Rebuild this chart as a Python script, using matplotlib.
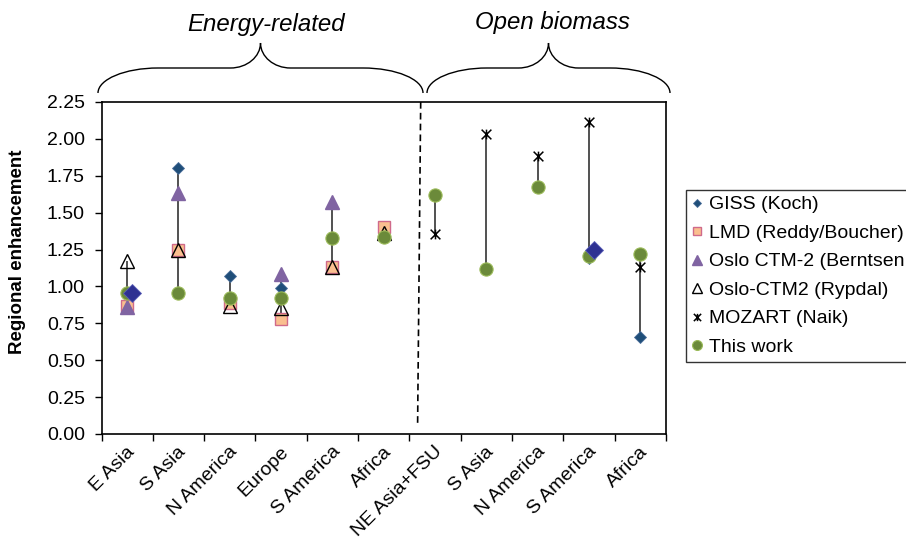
import numpy as np
import matplotlib
matplotlib.use("Agg")
import matplotlib.pyplot as plt
from matplotlib.path import Path
from matplotlib.patches import PathPatch
from matplotlib.transforms import Affine2D, ScaledTranslation

plt.rcParams['font.family'] = ['Liberation Sans', 'DejaVu Sans']

nan = np.nan
categories = ["E Asia", "S Asia", "N America", "Europe", "S America", "Africa",
              "NE Asia+FSU", "S Asia", "N America", "S America", "Africa"]
giss = [nan, 1.80, 1.07, 0.99, nan, nan, nan, nan, nan, 1.19, 0.66]
giss_big = [0.955, nan, nan, nan, nan, nan, nan, nan, nan, 1.245, nan]
lmd = [0.865, 1.245, 0.885, 0.78, 1.135, 1.40, nan, nan, nan, nan, nan]
oslo_berntsen = [0.86, 1.63, nan, 1.085, 1.575, nan, nan, nan, nan, nan, nan]
oslo_rypdal = [1.175, 1.245, 0.865, 0.855, 1.135, 1.36, nan, nan, nan, nan, nan]
mozart = [nan, nan, nan, nan, nan, nan, 1.355, 2.03, 1.885, 2.115, 1.13]
this_work = [0.957, 0.957, 0.925, 0.92, 1.325, 1.337, 1.617, 1.116, 1.673, 1.206, 1.217]
group_labels = ["Energy-related", "Open biomass"]

W, H = 906, 548
fig = plt.figure(figsize=(W / 100, H / 100), dpi=100)
ax = fig.add_axes([101.5 / W, 1 - 434 / H, (666 - 101.5) / W, (434 - 102) / H])
px = Affine2D().scale(1 / W, -1 / H).translate(0, 1) + fig.transFigure  # pixel coords, top-down

x = np.arange(len(categories))

# high-low lines per category
allv = np.array([giss, giss_big, lmd, oslo_berntsen, oslo_rypdal, mozart, this_work])
ax.vlines(x, np.nanmin(allv, axis=0), np.nanmax(allv, axis=0), color='#222222', lw=1.1, zorder=1)

# mozart star marker: X with a vertical stroke
star = Path([(-1, -1), (1, 1), (-1, 1), (1, -1), (0, -1), (0, 1)],
            [Path.MOVETO, Path.LINETO, Path.MOVETO, Path.LINETO, Path.MOVETO, Path.LINETO])

ax.plot(x, lmd, ls='none', marker='s', ms=8, mfc='#FABF8F', mec='#D06A8A', mew=1.0,
        label='LMD (Reddy/Boucher)', zorder=3)
ax.plot(x, oslo_berntsen, ls='none', marker='^', ms=9.5, mfc='#8064A2', mec='#8064A2',
        label='Oslo CTM-2 (Berntsen', zorder=4)
ax.plot(x, oslo_rypdal, ls='none', marker='^', ms=9.5, mfc='none', mec='black', mew=1.0,
        label='Oslo-CTM2 (Rypdal)', zorder=5)
ax.plot(x, giss, ls='none', marker='D', ms=6, mfc='#1F4E79', mec='#4A6E9A', mew=0.6,
        label='GISS (Koch)', zorder=5)
ax.plot(x, mozart, ls='none', marker=star, ms=7, mfc='none', mec='black', mew=1.1,
        label='MOZART (Naik)', zorder=6)
ax.plot(x, this_work, ls='none', marker='o', ms=9.5, mfc='#6B8A3A', mec='#9BBB59', mew=0.8,
        label='This work', zorder=7)
ax.plot(x + 0.1, giss_big, ls='none', marker='D', ms=9, mfc='#2E3192', mec='#5A5FB8', mew=0.6,
        zorder=8)

# dashed separator
ax.plot([5.72, 5.66], [2.25, 0.075], color='black', lw=1.2, ls=(0, (4, 2.5)), zorder=2)

ax.set_xlim(-0.5, len(categories) - 0.5)
ax.set_ylim(0, 2.25)
yt = np.arange(0, 2.26, 0.25)
ax.set_yticks(yt)
ax.set_yticklabels([f"{v:.2f}" for v in yt])
ax.set_xticks(np.arange(-0.5, len(categories), 1.0))
ax.set_xticklabels([])
ax.set_xticks(x, minor=True)
ax.set_xticklabels(categories, minor=True, rotation=45, ha='right', va='center',
                   rotation_mode='anchor')
ax.tick_params(axis='both', which='major', direction='out', length=5, width=1.0,
               labelsize=14, color='black')
ax.tick_params(axis='x', which='minor', length=0, pad=11, labelsize=14)
ax.tick_params(axis='y', pad=7)
shift = ScaledTranslation(0.05, 0, fig.dpi_scale_trans)
for lbl in ax.get_xticklabels(minor=True):
    lbl.set_transform(lbl.get_transform() + shift)
for s in ax.spines.values():
    s.set_linewidth(1.2)

fig.text(18, 252, "Regional enhancement", transform=px, rotation=90, fontsize=13.5,
         fontweight='bold', ha='center', va='center')


def brace(x0, x1, yb=93, ym=68, yp=43, r=60, rc=30):
    xc = (x0 + x1) / 2
    k = 0.55
    dy = yb - ym
    dp = ym - yp
    verts = [(x0, yb), (x0, yb - dy * k), (x0 + r * (1 - k), ym), (x0 + r, ym),
             (xc - rc, ym),
             (xc - rc + rc * k, ym), (xc, ym - dp * (1 - k)), (xc, yp),
             (xc, ym - dp * (1 - k)), (xc + rc - rc * k, ym), (xc + rc, ym),
             (x1 - r, ym),
             (x1 - r * (1 - k), ym), (x1, yb - dy * k), (x1, yb)]
    codes = [Path.MOVETO, Path.CURVE4, Path.CURVE4, Path.CURVE4, Path.LINETO,
             Path.CURVE4, Path.CURVE4, Path.CURVE4, Path.CURVE4, Path.CURVE4, Path.CURVE4,
             Path.LINETO, Path.CURVE4, Path.CURVE4, Path.CURVE4]
    fig.add_artist(PathPatch(Path(verts, codes), transform=px, fill=False, lw=1.0, ec='black'))


brace(98, 423)
brace(427, 670)
fig.text(266, 24, group_labels[0], transform=px, fontsize=17.3, style='italic', ha='center', va='center')
fig.text(552, 22, group_labels[1], transform=px, fontsize=17.3, style='italic', ha='center', va='center')

handles, labels = ax.get_legend_handles_labels()
order = [3, 0, 1, 2, 4, 5]
leg = fig.legend([handles[i] for i in order], [labels[i] for i in order],
                 loc='upper left', bbox_to_anchor=(686 / W, 1 - 190 / H), bbox_transform=fig.transFigure,
                 fontsize=14, frameon=True, fancybox=False, borderpad=0.3, handlelength=0.5,
                 handletextpad=0.4, labelspacing=0.56, borderaxespad=0, markerscale=0.75)
leg.get_frame().set_edgecolor('black')
leg.get_frame().set_linewidth(1.0)

fig.savefig("out.png", dpi=100)
